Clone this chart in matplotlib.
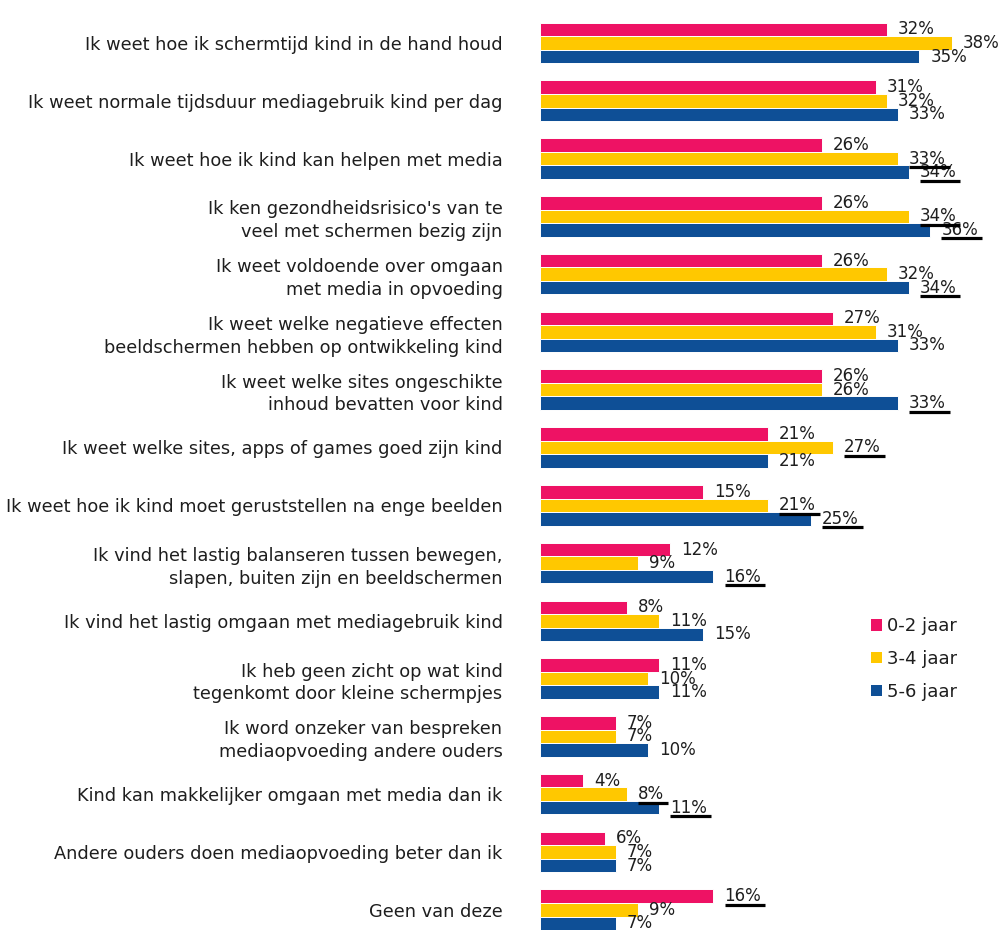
import matplotlib
matplotlib.use("Agg")
import matplotlib.pyplot as plt
from matplotlib.patches import Patch
from matplotlib.lines import Line2D

# ==== Data ====
categories = [
    "Ik weet hoe ik schermtijd kind in de hand houd",
    "Ik weet normale tijdsduur mediagebruik kind per dag",
    "Ik weet hoe ik kind kan helpen met media",
    "Ik ken gezondheidsrisico's van te\nveel met schermen bezig zijn",
    "Ik weet voldoende over omgaan\nmet media in opvoeding",
    "Ik weet welke negatieve effecten\nbeeldschermen hebben op ontwikkeling kind",
    "Ik weet welke sites ongeschikte\ninhoud bevatten voor kind",
    "Ik weet welke sites, apps of games goed zijn kind",
    "Ik weet hoe ik kind moet geruststellen na enge beelden",
    "Ik vind het lastig balanseren tussen bewegen,\nslapen, buiten zijn en beeldschermen",
    "Ik vind het lastig omgaan met mediagebruik kind",
    "Ik heb geen zicht op wat kind\ntegenkomt door kleine schermpjes",
    "Ik word onzeker van bespreken\nmediaopvoeding andere ouders",
    "Kind kan makkelijker omgaan met media dan ik",
    "Andere ouders doen mediaopvoeding beter dan ik",
    "Geen van deze",
]
series_names = ["0-2 jaar", "3-4 jaar", "5-6 jaar"]
age_0_2 = [32, 31, 26, 26, 26, 27, 26, 21, 15, 12, 8, 11, 7, 4, 6, 16]
age_3_4 = [38, 32, 33, 34, 32, 31, 26, 27, 21, 9, 11, 10, 7, 8, 7, 9]
age_5_6 = [35, 33, 34, 36, 34, 33, 33, 21, 25, 16, 15, 11, 10, 11, 7, 7]
# significant differences (underlined labels)
sig_0_2 = [0, 0, 0, 0, 0, 0, 0, 0, 0, 0, 0, 0, 0, 0, 0, 1]
sig_3_4 = [0, 0, 1, 1, 0, 0, 0, 1, 1, 0, 0, 0, 0, 1, 0, 0]
sig_5_6 = [0, 0, 1, 1, 1, 0, 1, 0, 1, 1, 0, 0, 0, 1, 0, 0]

COLORS = ["#EE1264", "#FFC800", "#0E4F96"]
TEXT = "#1e1e1e"

plt.rcParams["font.family"] = ["DejaVu Sans"]

fig = plt.figure(figsize=(10.03, 9.3), dpi=100)
ax = fig.add_axes([540 / 1003, 0, 463 / 1003, 1])

pitch = 0.234
offsets = [-pitch, 0, pitch]
ypos = list(range(len(categories)))
label_texts = []
for k, (vals, sigs) in enumerate(zip([age_0_2, age_3_4, age_5_6], [sig_0_2, sig_3_4, sig_5_6])):
    ys = [y + offsets[k] for y in ypos]
    ax.barh(ys, vals, height=pitch, color=COLORS[k], edgecolor="white", linewidth=0.7)
    for y, v, s in zip(ys, vals, sigs):
        t = ax.annotate(f"{v}%", (v, y), xytext=(8, 0), textcoords="offset points",
                        va="center", ha="left", fontsize=12, color=TEXT)
        label_texts.append((t, s))

ax.set_xlim(0, 463 / 10.84)
ax.set_ylim(15.35, -0.744)
ax.set_yticks(ypos)
ax.set_yticklabels(categories, ha="right", fontsize=12.75, color=TEXT)
for lab in ax.get_yticklabels():
    lab.set_linespacing(1.33)
ax.tick_params(axis="y", length=0, pad=27)
ax.set_xticks([])
for sp in ax.spines.values():
    sp.set_visible(False)

# underline significant labels, a little below the baseline
fig.canvas.draw()
renderer = fig.canvas.get_renderer()
for t, s in label_texts:
    if not s:
        continue
    bb = t.get_window_extent(renderer)
    _, _, descent = renderer.get_text_width_height_descent("lp", t.get_fontproperties(), ismath=False)
    y = bb.y0 + descent - 3.5
    fig.add_artist(Line2D([bb.x0 / 1003, (bb.x1 + 4) / 1003], [y / 930, y / 930],
                          color="black", linewidth=2.3, solid_capstyle="butt"))

handles = [Patch(facecolor=c, edgecolor="none") for c in COLORS]
fig.legend(handles, series_names, loc="upper left", bbox_to_anchor=(855 / 1003, 1 - 601 / 930),
           frameon=False, fontsize=13, handlelength=0.61, handleheight=0.61,
           handletextpad=0.28, labelspacing=0.82, labelcolor=TEXT)

fig.savefig("out.png", dpi=100)
